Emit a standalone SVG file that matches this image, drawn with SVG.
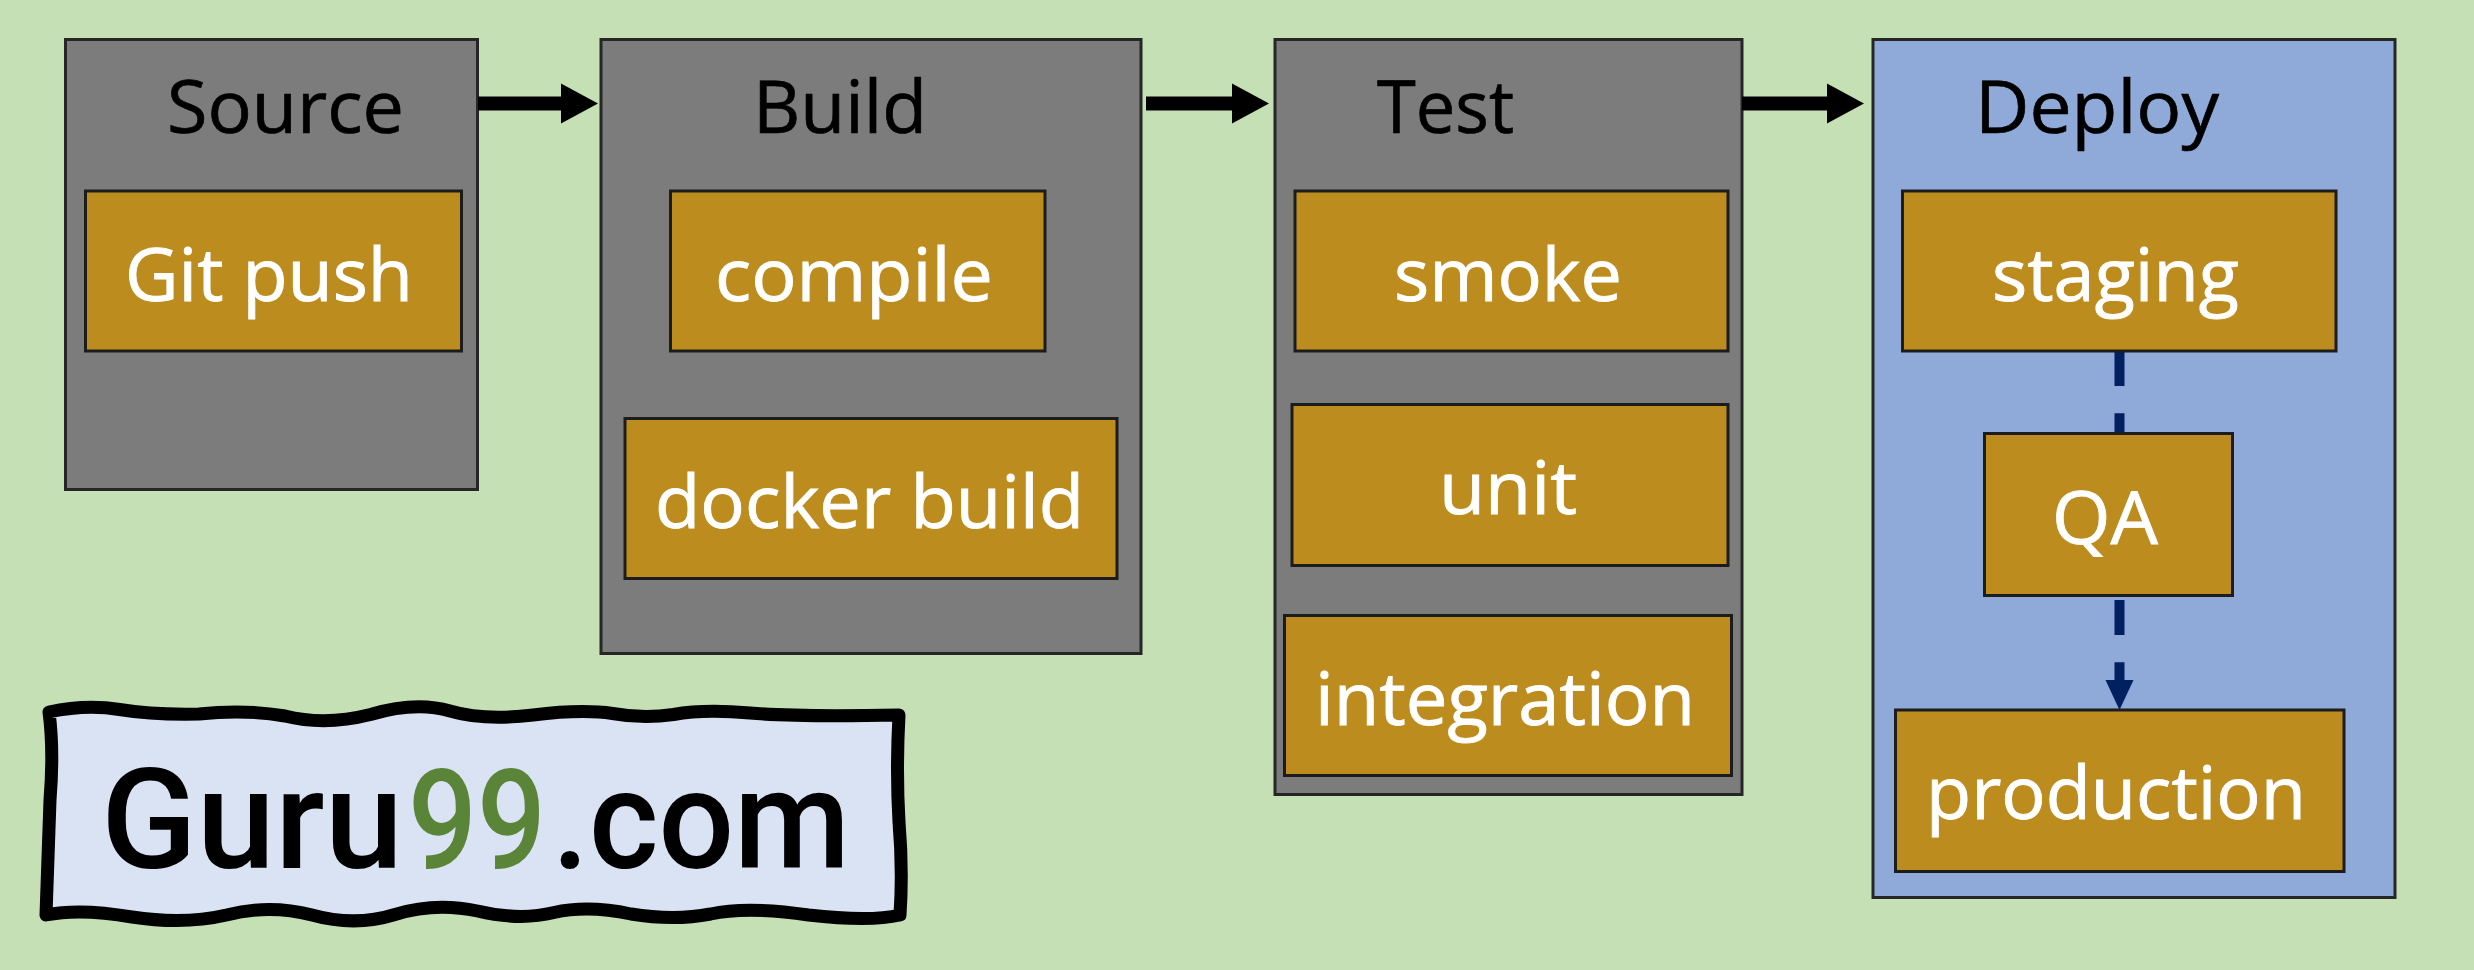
<svg xmlns="http://www.w3.org/2000/svg" width="2474" height="970" viewBox="0 0 2474 970">
<style>
.stage{fill:#7c7c7c;stroke:#262626;stroke-width:3}
.deploy{fill:#8faad9;stroke:#262626;stroke-width:3}
.task{fill:#bc8d1e;stroke:#1c1c1c;stroke-width:3}
text{font-family:"Open Sans","Noto Sans","Liberation Sans",sans-serif;font-size:73px}
.t{fill:#000;stroke:#000;stroke-width:.7}
.w{fill:#fff;stroke:#fff;stroke-width:.9}
.flow{stroke:#000;stroke-width:14;fill:none}
.dash{stroke:#002060;stroke-width:10;fill:none;stroke-dasharray:35 27.3}
.logo{font-family:"Roboto","Liberation Sans",sans-serif;font-size:140px;font-weight:500;fill:#000}
</style>
<defs>
<marker id="hb" markerUnits="userSpaceOnUse" markerWidth="38" markerHeight="42" refX="0" refY="21" orient="auto"><path d="M0 1L37 21L0 41Z" fill="#000"/></marker>
<marker id="hn" markerUnits="userSpaceOnUse" markerWidth="30" markerHeight="30" refX="0" refY="15" orient="auto"><path d="M0 1L30 15L0 29Z" fill="#002060"/></marker>
</defs>
<rect width="2474" height="970" fill="#c5e0b4"/>
<g id="stage-source"><rect class="stage" x="65.5" y="39.5" width="412" height="450"/><text class="t" x="167" y="133" textLength="237" lengthAdjust="spacingAndGlyphs">Source</text></g>
<g id="stage-build"><rect class="stage" x="601" y="39.5" width="540" height="614"/><text class="t" x="753" y="133" textLength="174" lengthAdjust="spacingAndGlyphs">Build</text></g>
<g id="stage-test"><rect class="stage" x="1275" y="39.5" width="467" height="755"/><text class="t" x="1377" y="133" textLength="137" lengthAdjust="spacingAndGlyphs">Test</text></g>
<g id="stage-deploy"><rect class="deploy" x="1873" y="39.5" width="522" height="858"/><text class="t" x="1975" y="133" textLength="244" lengthAdjust="spacingAndGlyphs">Deploy</text></g>
<g id="connectors">
<line class="flow" x1="478" y1="103.5" x2="561" y2="103.5" marker-end="url(#hb)"/>
<line class="flow" x1="1146" y1="103.5" x2="1232" y2="103.5" marker-end="url(#hb)"/>
<line class="flow" x1="1742" y1="103.5" x2="1827" y2="103.5" marker-end="url(#hb)"/>
<line class="dash" x1="2119.5" y1="351" x2="2119.5" y2="433"/>
<line class="dash" x1="2119.5" y1="595" x2="2119.5" y2="680" stroke-dashoffset="57.3" marker-end="url(#hn)"/>
</g>
<g id="task-git-push"><rect class="task" x="85.5" y="191" width="376" height="160"/><text class="w" x="125" y="301" textLength="288" lengthAdjust="spacingAndGlyphs">Git push</text></g>
<g id="task-compile"><rect class="task" x="670.5" y="191" width="374.5" height="160"/><text class="w" x="715" y="301" textLength="278" lengthAdjust="spacingAndGlyphs">compile</text></g>
<g id="task-docker-build"><rect class="task" x="625" y="418.5" width="492" height="160"/><text class="w" x="655" y="528" textLength="429" lengthAdjust="spacingAndGlyphs">docker build</text></g>
<g id="task-smoke"><rect class="task" x="1295" y="191" width="433" height="160"/><text class="w" x="1394" y="301" textLength="228" lengthAdjust="spacingAndGlyphs">smoke</text></g>
<g id="task-unit"><rect class="task" x="1292" y="404.5" width="436" height="161"/><text class="w" x="1439" y="514" textLength="138" lengthAdjust="spacingAndGlyphs">unit</text></g>
<g id="task-integration"><rect class="task" x="1284.5" y="615.5" width="447" height="160"/><text class="w" x="1315" y="725" textLength="380" lengthAdjust="spacingAndGlyphs">integration</text></g>
<g id="task-staging"><rect class="task" x="1902.5" y="191" width="433.5" height="160"/><text class="w" x="1992" y="301" textLength="247" lengthAdjust="spacingAndGlyphs">staging</text></g>
<g id="task-qa"><rect class="task" x="1984.5" y="433.5" width="248" height="162"/><text class="w" x="2052" y="544" textLength="106" lengthAdjust="spacingAndGlyphs">QA</text></g>
<g id="task-production"><rect class="task" x="1895.5" y="710" width="448.5" height="161.5"/><text class="w" x="1926" y="819" textLength="380" lengthAdjust="spacingAndGlyphs">production</text></g>
<g id="logo">
<path d="M49 712Q86 704 119.5 709.5Q153 715 199 714Q245 709 285 716Q325 726 370.5 714.5Q416 701 450 711Q484 721 533 715Q582 709 612.5 713.5Q643 719 673.5 714.5Q704 709 750 713Q796 717 899 715Q896 770 899 822Q903 870 900 915Q870 922 808.5 915Q747 906 710.5 914Q674 921 631 914Q588 905 554 912.5Q520 921 477.5 911Q435 902 395 914.5Q355 927 312 915Q269 904 226.5 915Q184 925 132 917Q80 908 46 915Q48 860 50 800Q54 750 49 712Z" fill="#dae3f3" stroke="#000" stroke-width="13" stroke-linejoin="round"/>
<text class="logo" x="101" y="868" textLength="302" lengthAdjust="spacingAndGlyphs">Guru</text>
<text class="logo" x="408" y="868" style="fill:#5a8539" textLength="138" lengthAdjust="spacingAndGlyphs">99</text>
<text class="logo" x="552" y="868" textLength="298" lengthAdjust="spacingAndGlyphs">.com</text>
</g>
</svg>
